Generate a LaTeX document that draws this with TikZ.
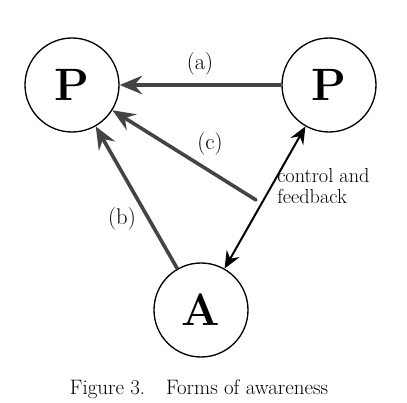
\documentclass[tikz,border=0pt]{standalone}
\usepackage{amsmath}
\usepackage{amssymb}
\usetikzlibrary{arrows.meta}
\definecolor{arrgray}{HTML}{444444}

\begin{document}
\begin{tikzpicture}[x=0.75pt,y=0.75pt,yscale=-1,xscale=1,
  circ/.style={draw,circle,line width=1pt,minimum size=70.5pt,inner sep=0pt,font=\fontsize{34}{34}\selectfont\bfseries},
  grayarr/.style={draw=arrgray,line width=2.7pt,-{Stealth[length=17pt,width=14pt,inset=6pt]}},
  ctrlarr/.style={draw=black,line width=1.5pt,{Stealth[length=13pt,width=11pt,inset=4.5pt]}-{Stealth[length=13pt,width=11pt,inset=4.5pt]}},
  lbl/.style={inner sep=0.75pt,font=\fontsize{17}{19}\selectfont}]
\useasboundingbox (0,0) rectangle (407,403);

% Circles
\node [circ] (pl) at (72,85) {P};
\node [circ] (pr) at (329,85) {P};
\node [circ] (aw) at (201,310) {A};
\coordinate (cstart) at (256,200);

% Arrows
\draw [grayarr] (pr) -- (pl);
\draw [grayarr,line cap=round] (cstart) -- (pl);
\draw [grayarr] (aw) -- (pl);
\draw [ctrlarr] (pr) -- (aw);

% Text Node
\node [lbl] (la) at (200,64) {(a)};
\node [lbl] (lc) at (210,144) {(c)};
\node [lbl] (lb) at (122,219) {(b)};
\node [lbl,anchor=base west,align=left,font=\fontsize{15.2}{15.75}\selectfont] (lctrl) at (276,203) {control and\\feedback};
\node [lbl,anchor=base,font=\fontsize{15.7}{17}\selectfont] (cap) at (199,394) {Figure 3.\quad Forms of awareness};

\end{tikzpicture}
\end{document}
